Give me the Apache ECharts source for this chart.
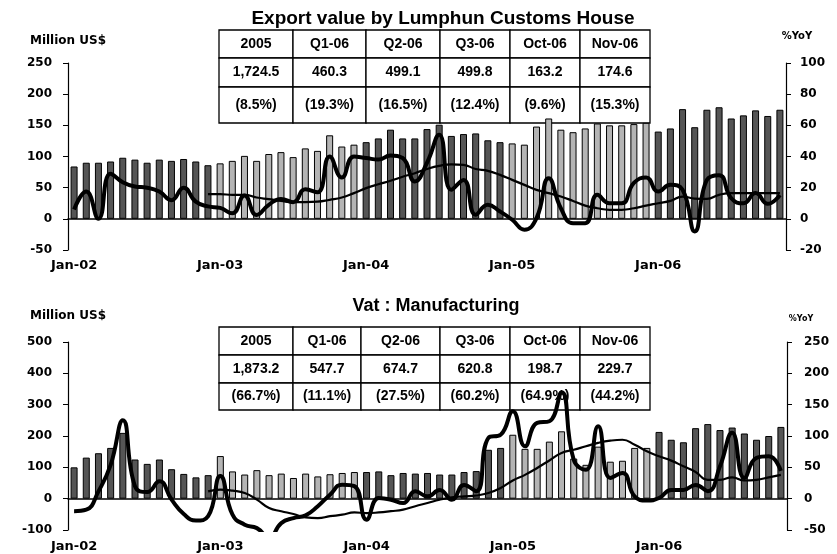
<!DOCTYPE html>
<html>
<head>
<meta charset="utf-8">
<script src="https://cdn.jsdelivr.net/npm/echarts@6/dist/echarts.min.js"></script>
<style>
  html, body { margin: 0; padding: 0; background: #fff; }
  #chart { width: 837px; height: 554px; }
</style>
</head>
<body>
<div id="chart"></div>
<script>
// months Jan-02 .. Nov-06
const years = ['02', '03', '04', '05', '06'];
const monthNames = ['Jan', 'Feb', 'Mar', 'Apr', 'May', 'Jun', 'Jul', 'Aug', 'Sep', 'Oct', 'Nov', 'Dec'];
const months = [];
years.forEach(y => monthNames.forEach(m => months.push(m + '-' + y)));
months.length = 59;

// Export value by Lumphun Customs House (Million US$)
const exportValue = [
  84, 90, 90, 92, 98, 95, 90, 95, 93, 96, 92, 86,
  89, 93, 101, 93, 104, 107, 99, 113, 109, 134, 116, 119,
  123, 129, 143, 129, 129, 144, 151, 133, 136, 137, 126, 123,
  121, 119, 148, 161, 143, 139, 145, 153, 150, 150, 152, 154,
  140, 145, 176, 147, 175, 179, 161, 166, 174, 165, 175
];
// %YoY monthly
const exportYoY = [
  6, 17.5, 0, 29, 23.5, 20.7, 20, 17.5, 12, 20, 11, 8,
  7, 3.6, 15, 2.5, 9, 12.8, 10.7, 19, 17, 40, 26.5, 40,
  39, 38, 40.6, 39, 24, 36, 54, 18.6, 25, 2.6, 9, 4.7,
  -0.6, -7, 0.4, 26, 6.8, -2.8, -2.8, 15.4, 10, 10, 23, 26.5,
  17.5, 21.8, 18.6, -8.1, 25, 28, 13.2, 10, 16.5, 9.6, 15.3
];
// %YoY 12-month average, from Dec-02
const exportAvg = [
  15.8, 15.8, 15.4, 15.4, 13.7, 12.6, 11.5, 10.7, 10.7, 11, 12.2, 13.7, 16.5,
  19.7, 22.2, 24.4, 27, 29.3, 32, 34, 35, 34.6, 32, 30.8, 28.2,
  25, 21.8, 18.6, 16.5, 14.3, 11.5, 8.5, 6.8, 5.8, 5.8, 6.8, 8.5,
  10, 11.5, 14.3, 13, 12.8, 15.4, 16.5, 16.5, 16.5, 16.5, 16.5
];

// Vat : Manufacturing (Million US$)
const vatValue = [
  100, 131, 145, 162, 210, 125, 111, 125, 94, 79, 68, 75,
  136, 87, 77, 91, 75, 80, 66, 80, 71, 78, 82, 85,
  85, 87, 75, 82, 80, 82, 77, 77, 85, 88, 156, 162,
  204, 159, 159, 182, 215, 128, 108, 166, 118, 121, 162, 162,
  213, 188, 180, 225, 238, 219, 227, 208, 188, 200, 229
];
const vatYoY = [
  -20, -17.6, 11.7, 54, 125, 19.7, 10.6, 27.7, -1.6, -24.5, -35, -28,
  36, -25.6, -41.5, -47, -62, -39, -31, -26.6, -12, 6.4, 22.4, 20,
  -33.5, 1, -1.6, -7, 11.7, 3.7, 14, -1.6, 22, 12, 97, 102,
  139.5, 83.6, 121, 123.5, 170, 62, 46, 115.5, 33, 41, 3.7, -3,
  1, 14, 14, 22, 12, 51.6, 105, 33, 65, 67.6, 44.2
];
const vatAvg = [
  11.7, 14.4, 12.8, 9, -1.6, -15, -20, -24.5, -30, -31, -28, -25.6, -22,
  -23, -22, -20, -17.6, -12, -7, -1.6, 2, 3.7, 5, 9, 17,
  29, 38, 49, 61, 73, 78, 83.6, 89, 92.6, 94, 86, 75.6,
  67.6, 60.7, 51.6, 42.6, 30, 30, 34, 29, 30, 34, 38
];

// summary tables
const tableHead = ['2005', 'Q1-06', 'Q2-06', 'Q3-06', 'Oct-06', 'Nov-06'];
const exportTotals = ['1,724.5', '460.3', '499.1', '499.8', '163.2', '174.6'];
const exportGrowth = ['(8.5%)', '(19.3%)', '(16.5%)', '(12.4%)', '(9.6%)', '(15.3%)'];
const vatTotals = ['1,873.2', '547.7', '674.7', '620.8', '198.7', '229.7'];
const vatGrowth = ['(66.7%)', '(11.1%)', '(27.5%)', '(60.2%)', '(64.9%)', '(44.2%)'];

const DARK = '#555555', LIGHT = '#b4b4b4';
const axisFont = { fontFamily: 'DejaVu Sans', fontWeight: 'bold', color: '#000' };

function barData(vals) {
  return vals.map((v, i) => ({
    value: v,
    itemStyle: { color: Math.floor(i / 12) % 2 ? LIGHT : DARK }
  }));
}
function padAvg(arr) {
  return Array(11).fill(null).concat(arr);
}

function table(colX, rowY, rows) {
  const els = [];
  rows.forEach((row, r) => {
    row.forEach((txt, c) => {
      els.push({
        type: 'rect', z: 1,
        shape: { x: colX[c], y: rowY[r], width: colX[c + 1] - colX[c], height: rowY[r + 1] - rowY[r] },
        style: { fill: '#fff', stroke: '#000', lineWidth: 1.3 }
      });
      els.push({
        type: 'text', z: 1,
        x: (colX[c] + colX[c + 1]) / 2, y: (rowY[r] + rowY[r + 1]) / 2,
        style: { text: txt, font: 'bold 14px "Liberation Sans", Arial', fill: '#000',
                 textAlign: 'center', textVerticalAlign: 'middle' }
      });
    });
  });
  return els;
}

// labels sit at the bottom of the grid, the line and ticks on zero
function xAx(grid, margin) {
  return {
    type: 'category', gridIndex: grid, data: months,
    axisLine: { onZero: true, lineStyle: { color: '#000', width: 1.5 } },
    axisTick: { interval: 5, length: 4, lineStyle: { color: '#000' } },
    axisLabel: { interval: 11, margin: margin, fontSize: 13, ...axisFont },
    splitLine: { show: false }
  };
}
function yAx(grid, pos, min, max, step, name, nameGap, nameSize, namePad, margin) {
  return {
    type: 'value', gridIndex: grid, position: pos, min: min, max: max, interval: step,
    name: name, nameLocation: 'end', nameGap: nameGap,
    nameTextStyle: { fontSize: nameSize, align: 'center', padding: namePad, ...axisFont },
    axisLine: { show: true, onZero: false, lineStyle: { color: '#000', width: 1.2 } },
    axisTick: { show: true, length: 5, lineStyle: { color: '#000' } },
    axisLabel: { fontSize: 12, margin: margin, ...axisFont },
    splitLine: { show: false }
  };
}

const chart = echarts.init(document.getElementById('chart'));
chart.setOption({
  animation: false,
  backgroundColor: '#fff',
  title: [
    { text: 'Export value by Lumphun Customs House', left: 443, top: 9, padding: 0, textAlign: 'center',
      textStyle: { fontFamily: 'Liberation Sans', fontWeight: 'bold', fontSize: 19, color: '#000' } },
    { text: 'Vat : Manufacturing', left: 436, top: 297, padding: 0, textAlign: 'center',
      textStyle: { fontFamily: 'Liberation Sans', fontWeight: 'bold', fontSize: 18, color: '#000' } }
  ],
  grid: [
    { left: 68, right: 51, top: 63, height: 187 },
    { left: 68, right: 50, top: 342, height: 188 }
  ],
  xAxis: [xAx(0, 9), xAx(1, 10)],
  yAxis: [
    yAx(0, 'left', -50, 250, 50, 'Million US$', 16, 12, [0, 0, 0, 0], 16),
    yAx(0, 'right', -20, 100, 20, '%YoY', 22, 10, [0, 0, 0, 22], 14),
    yAx(1, 'left', -100, 500, 100, 'Million US$', 20, 12, [0, 0, 0, 0], 16),
    yAx(1, 'right', -50, 250, 50, '%YoY', 19, 8, [0, 0, 0, 28], 17)
  ],
  series: [
    { type: 'bar', xAxisIndex: 0, yAxisIndex: 0, data: barData(exportValue), barWidth: 7,
      itemStyle: { borderColor: '#000', borderWidth: 1 } },
    { type: 'line', xAxisIndex: 0, yAxisIndex: 1, data: exportYoY, smooth: 0.5, showSymbol: false,
      lineStyle: { color: '#000', width: 4 } },
    { type: 'line', xAxisIndex: 0, yAxisIndex: 1, data: padAvg(exportAvg), smooth: 0.5, showSymbol: false,
      lineStyle: { color: '#000', width: 2.2 } },
    { type: 'bar', xAxisIndex: 1, yAxisIndex: 2, data: barData(vatValue), barWidth: 7,
      itemStyle: { borderColor: '#000', borderWidth: 1 } },
    { type: 'line', xAxisIndex: 1, yAxisIndex: 3, data: vatYoY, smooth: 0.5, showSymbol: false,
      lineStyle: { color: '#000', width: 4 } },
    { type: 'line', xAxisIndex: 1, yAxisIndex: 3, data: padAvg(vatAvg), smooth: 0.5, showSymbol: false,
      lineStyle: { color: '#000', width: 2.2 } }
  ],
  graphic: table([219, 293, 366, 440, 510, 580, 650], [30, 58, 87, 123],
                 [tableHead, exportTotals, exportGrowth])
    .concat(table([219, 293, 361, 440, 510, 580, 650], [327, 355, 383, 410],
                  [tableHead, vatTotals, vatGrowth]))
});
</script>
</body>
</html>
